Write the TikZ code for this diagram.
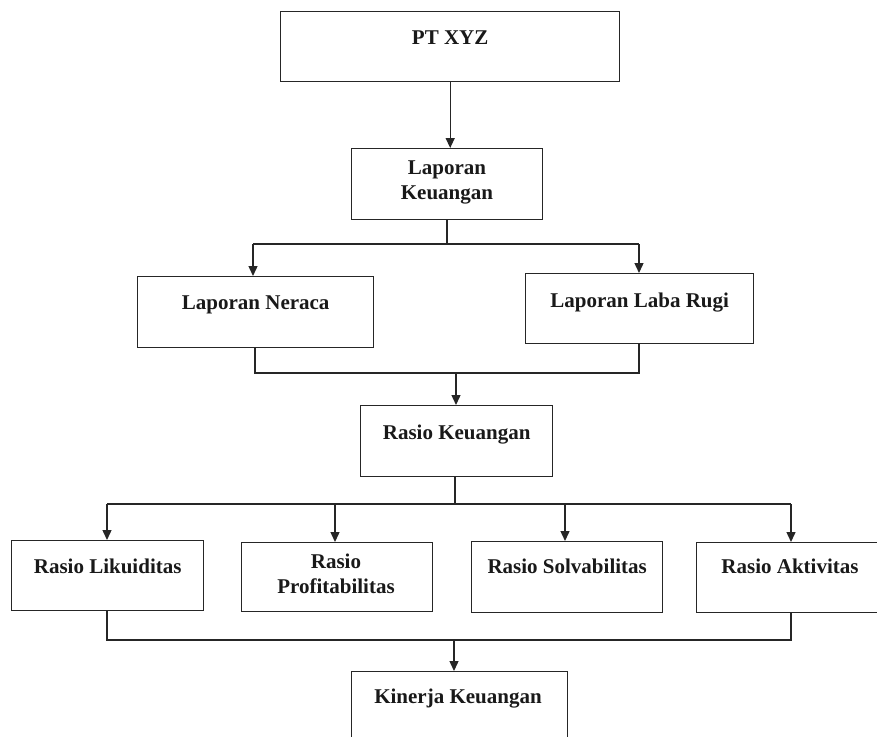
\documentclass[tikz,border=0pt]{standalone}
\usepackage{fontspec}
\setmainfont{Liberation Serif}
\usetikzlibrary{arrows.meta}
\tikzset{
  box/.style={draw=black!85, line width=1.4pt, rectangle, inner sep=0pt, anchor=north west, fill=white},
  lbl/.style={font=\fontsize{21}{25}\selectfont\bfseries, inner sep=0pt, anchor=base, text=black!90},
  conn/.style={draw=black!85, line width=1.4pt},
  arr/.style={conn, -{Triangle[width=9pt,length=10pt]}}
}
\begin{document}
\begin{tikzpicture}[x=1pt,y=-1pt]
\useasboundingbox (0,0) rectangle (877,736);
\clip (0,0) rectangle (877,736);
% boxes
\node[box, minimum width=339pt, minimum height=70pt] (pt) at (280,11) {};
\node[lbl] (ptT) at ([yshift=-33pt]pt.north) {PT XYZ};

\node[box, minimum width=191pt, minimum height=71pt] (lk) at (351,148) {};
\node[lbl] (lkT1) at (447,174) {Laporan};
\node[lbl] (lkT2) at (447,199) {Keuangan};

\node[box, minimum width=236pt, minimum height=71pt] (ner) at (137,276) {};
\node[lbl] (nerT) at ([yshift=-33pt]ner.north) {Laporan Neraca};

\node[box, minimum width=228pt, minimum height=70pt] (lr) at (525,273) {};
\node[lbl] (lrT) at ([yshift=-34pt]lr.north) {Laporan Laba Rugi};

\node[box, minimum width=192pt, minimum height=71pt] (rk) at (360,405) {};
\node[lbl] (rkT) at ([yshift=-34pt]rk.north) {Rasio Keuangan};

\node[box, minimum width=192pt, minimum height=70pt] (lik) at (11,540) {};
\node[lbl] (likT) at ([yshift=-33pt]lik.north) {Rasio Likuiditas};

\node[box, minimum width=191pt, minimum height=69pt] (prof) at (241,542) {};
\node[lbl] (profT1) at (336,568) {Rasio};
\node[lbl] (profT2) at (336,593) {Profitabilitas};

\node[box, minimum width=191pt, minimum height=71pt] (solv) at (471,541) {};
\node[lbl] (solvT) at ([yshift=-32pt]solv.north) {Rasio Solvabilitas};

\node[box, minimum width=190pt, minimum height=70pt] (akt) at (696,542) {};
\node[lbl] (aktT) at (790,573) {Rasio Aktivitas};

\node[box, minimum width=216pt, minimum height=90pt] (kin) at (351,671) {};
\node[lbl] (kinT) at (458,703) {Kinerja Keuangan};

% junction coordinates
\coordinate (j1) at (447,244);
\coordinate (j1l) at (253,244);
\coordinate (j1r) at (639,244);
\coordinate (j2l) at (255,373);
\coordinate (j2r) at (639,373);
\coordinate (j2) at (456,373);
\coordinate (j3) at (455,504);
\coordinate (j3a) at (107,504);
\coordinate (j3b) at (335,504);
\coordinate (j3c) at (565,504);
\coordinate (j3d) at (791,504);
\coordinate (j4l) at (107,640);
\coordinate (j4r) at (791,640);
\coordinate (j4) at (454,640);

% connectors
\draw[arr] (pt.south) -- (pt.south |- lk.north);
\draw[conn] (j1 |- lk.south) -- (j1);
\draw[conn] (j1l) -- (j1r);
\draw[arr] (j1l) -- (j1l |- ner.north);
\draw[arr] (j1r) -- (j1r |- lr.north);
\draw[conn] (j2l |- ner.south) -- (j2l) -- (j2r) -- (j2r |- lr.south);
\draw[arr] (j2) -- (j2 |- rk.north);
\draw[conn] (j3 |- rk.south) -- (j3);
\draw[conn] (j3a) -- (j3d);
\draw[arr] (j3a) -- (j3a |- lik.north);
\draw[arr] (j3b) -- (j3b |- prof.north);
\draw[arr] (j3c) -- (j3c |- solv.north);
\draw[arr] (j3d) -- (j3d |- akt.north);
\draw[conn] (j4l |- lik.south) -- (j4l) -- (j4r) -- (j4r |- akt.south);
\draw[arr] (j4) -- (j4 |- kin.north);
\end{tikzpicture}
\end{document}
